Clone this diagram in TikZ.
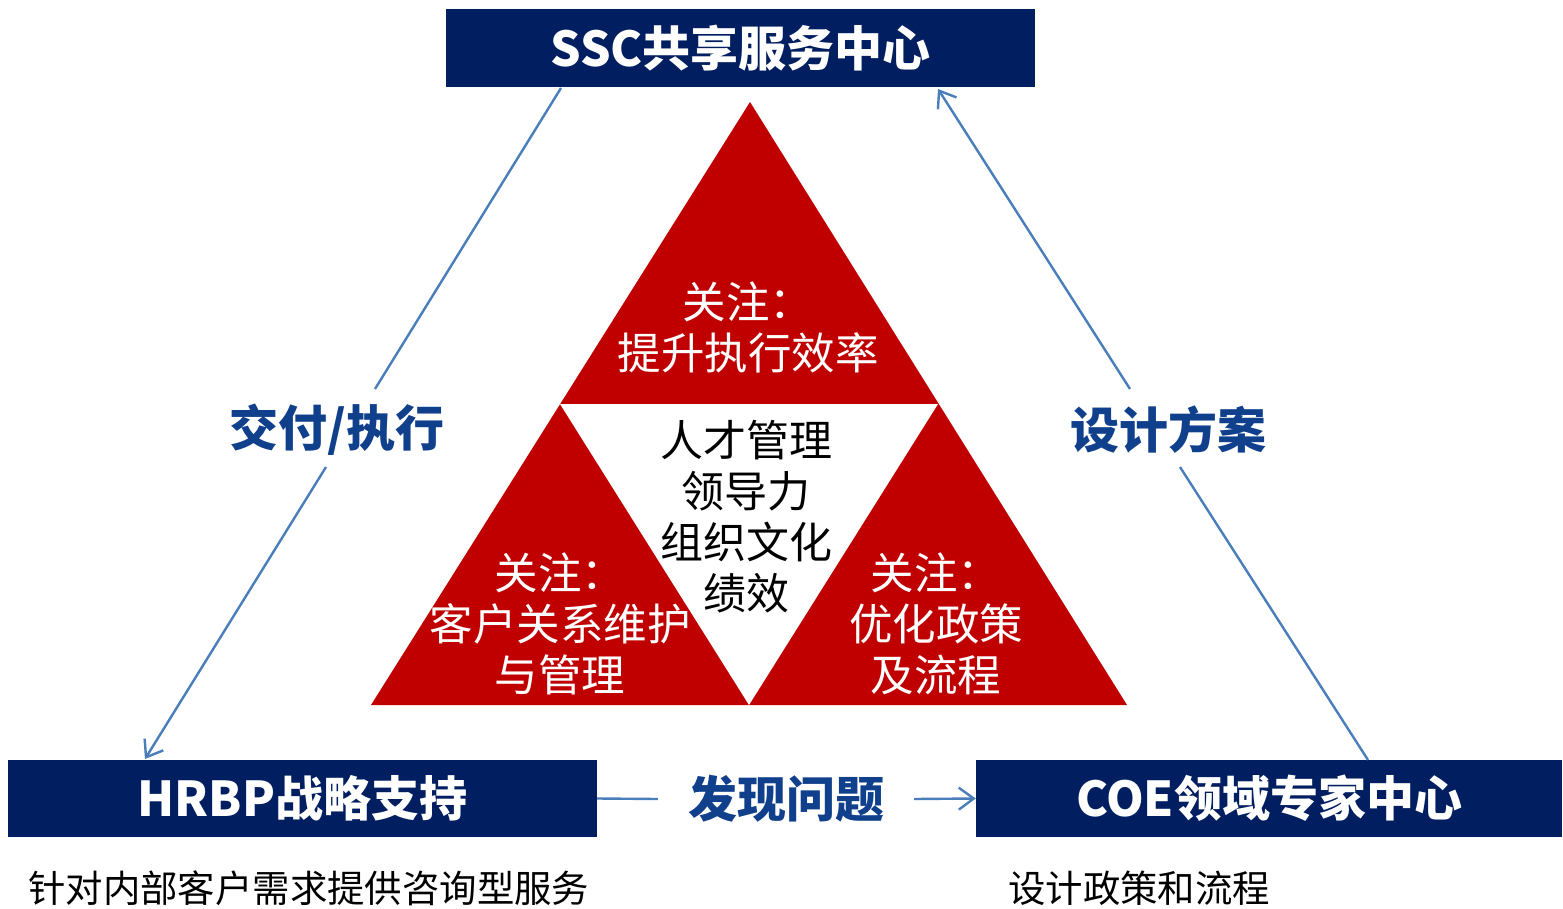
\documentclass[tikz,border=0pt]{standalone}
\usepackage{fontspec}
\newfontfamily\cjk{Noto Sans CJK SC}
\usetikzlibrary{arrows.meta}
\definecolor{navy}{RGB}{0,30,96}
\definecolor{tred}{RGB}{192,0,0}
\definecolor{lblue}{RGB}{74,126,187}
\definecolor{tblue}{RGB}{16,64,140}
\tikzset{
  box/.style={fill=navy,draw=none,text=white,font=\cjk\bfseries\fontsize{48}{56}\selectfont,inner sep=0pt},
  conn/.style={draw=lblue,line width=2.4pt},
  arr/.style={conn,-{Straight Barb[length=15pt,width=22pt,line width=2.4pt]}},
  lbl/.style={text=tblue,font=\cjk\bfseries\fontsize{49}{56}\selectfont,inner sep=0pt},
  wtxt/.style={text=white,font=\cjk\fontsize{43.5}{51}\selectfont,align=center,inner sep=0pt},
  btxt/.style={text=black,font=\cjk\fontsize{43}{51}\selectfont,align=center,inner sep=0pt},
  note/.style={text=black,font=\cjk\fontsize{37.4}{44}\selectfont,inner sep=0pt},
}
\begin{document}
\begin{tikzpicture}[x=1pt,y=-1pt]
\useasboundingbox (0,0) rectangle (1563,909);
% boxes
\node[box,minimum width=589pt,minimum height=78pt] (ssc) at (740.5,48) {SSC共享服务中心};
\node[box,minimum width=589pt,minimum height=77pt] (hrbp) at (302.5,798.5) {HRBP战略支持};
\node[box,minimum width=586pt,minimum height=77pt] (coe) at (1269,798.5) {COE领域专家中心};
% triangles
\fill[tred] (750,102) -- (1127,705) -- (371,705) -- cycle;
\fill[white] (560,404) -- (938,404) -- (749,705) -- cycle;
% triangle texts
\node[wtxt] (t1) at (748,327) {关注：\\提升执行效率};
\node[wtxt] (t2) at (560,624) {关注：\\客户关系维护\\与管理};
\node[wtxt] (t3) at (936,624) {关注：\\优化政策\\及流程};
\node[btxt] (t0) at (746,516.5) {人才管理\\领导力\\组织文化\\绩效};
% labels
\node[lbl] (l1) at (337,430) {交付/执行};
\node[lbl] (l2) at (1168,430) {设计方案};
\node[lbl] (l3) at (786,799) {发现问题};
% connector coordinates
\coordinate (a1) at (561,88);
\coordinate (a2) at (375,389);
\coordinate (a3) at (326,467);
\coordinate (a4) at (145,759);
\draw[conn] (a1) -- (a2);
\draw[arr] (a3) -- (a4);
\coordinate (b1) at (1368,760);
\coordinate (b2) at (1180,467);
\coordinate (b3) at (1130,389);
\coordinate (b4) at (938,89);
\draw[conn] (b1) -- (b2);
\draw[arr] (b3) -- (b4);
\draw[conn] (hrbp.east) -- ([xshift=-30pt]l3.west);
\draw[arr] ([xshift=30pt]l3.east) -- (coe.west);
% notes
\node[note,anchor=west] (n1) at (28,888) {针对内部客户需求提供咨询型服务};
\node[note,anchor=west] (n2) at (1008,888) {设计政策和流程};
\end{tikzpicture}
\end{document}
